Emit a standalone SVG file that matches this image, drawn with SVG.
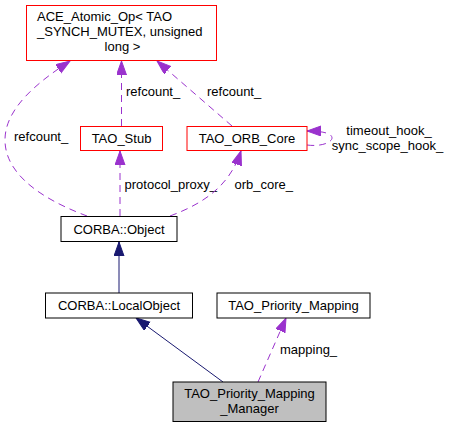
<svg xmlns="http://www.w3.org/2000/svg" width="450" height="428" viewBox="0 0 450 428">
<defs>
<style>
text{font-family:"Liberation Sans",Arial,sans-serif;font-size:13px;fill:#000}
.n{fill:#fff;stroke:#000;stroke-width:1}
.r{fill:#fff;stroke:#ff0000;stroke-width:1}
.g{fill:#bfbfbf;stroke:#000;stroke-width:1}
.m{text-anchor:middle}
.d{fill:none;stroke:#9a32cd;stroke-width:1;stroke-dasharray:7,5}
.s{fill:none;stroke:#191970;stroke-width:1}
</style>
<marker id="ap" markerUnits="userSpaceOnUse" markerWidth="16" markerHeight="12" refX="14" refY="5" orient="auto" viewBox="0 0 16 12"><path d="M0,0 L14,5 L0,10 Z" fill="#9a32cd" stroke="#9a32cd"/></marker>
<marker id="an" markerUnits="userSpaceOnUse" markerWidth="16" markerHeight="12" refX="14" refY="5" orient="auto" viewBox="0 0 16 12"><path d="M0,0 L14,5 L0,10 Z" fill="#191970" stroke="#191970"/></marker>
</defs>
<rect width="450" height="428" fill="#fff"/>
<g id="edges">
<path class="d" marker-end="url(#ap)" d="M87,216 C55,204 5,180 5,140 C5,108 38,82 70,61"/>
<text x="14" y="141">refcount_</text>
<path class="d" marker-end="url(#ap)" d="M121.5,126 L121.5,61"/>
<text x="126" y="96">refcount_</text>
<path class="d" marker-end="url(#ap)" d="M232,126 L157,61"/>
<text x="207" y="96">refcount_</text>
<path class="d" marker-end="url(#ap)" d="M307,145 C322,147 332,142 332,138 C332,134 325,131 307,131"/>
<text class="m" x="389" y="135">timeout_hook_</text>
<text class="m" x="387.5" y="149.5">sync_scope_hook_</text>
<path class="d" marker-end="url(#ap)" d="M120,216 L120,151"/>
<text x="124.5" y="188.5">protocol_proxy_</text>
<path class="d" marker-end="url(#ap)" d="M170,216 C205,203 230,185 241,151"/>
<text x="234.5" y="188.5">orb_core_</text>
<path class="s" marker-end="url(#an)" d="M119,293 L119,242"/>
<path class="s" marker-end="url(#an)" d="M223,382 L136,318"/>
<path class="d" marker-end="url(#ap)" d="M258,382 L286,318"/>
<text x="280" y="353.5">mapping_</text>
</g>
<g id="ace"><rect class="r" x="26.5" y="5.5" width="190" height="55"/>
<text x="37" y="21">ACE_Atomic_Op&lt; TAO</text>
<text x="37" y="36">_SYNCH_MUTEX, unsigned</text>
<text class="m" x="122.5" y="51">long &gt;</text></g>
<g id="stub"><rect class="r" x="80.5" y="126.5" width="82" height="24"/>
<text class="m" x="121.5" y="143">TAO_Stub</text></g>
<g id="orbcore"><rect class="r" x="187" y="126.5" width="120" height="24"/>
<text class="m" x="247" y="143">TAO_ORB_Core</text></g>
<g id="object"><rect class="n" x="61" y="216.5" width="116" height="25"/>
<text class="m" x="119" y="233.5">CORBA::Object</text></g>
<g id="localobject"><rect class="n" x="45.5" y="293" width="147" height="25"/>
<text class="m" x="119" y="310">CORBA::LocalObject</text></g>
<g id="mapping"><rect class="n" x="217" y="293" width="153" height="25"/>
<text class="m" x="293.5" y="310">TAO_Priority_Mapping</text></g>
<g id="manager"><rect class="g" x="173" y="382" width="153" height="39.5"/>
<text class="m" x="249.5" y="397.5">TAO_Priority_Mapping</text>
<text class="m" x="249.5" y="413">_Manager</text></g>
</svg>
